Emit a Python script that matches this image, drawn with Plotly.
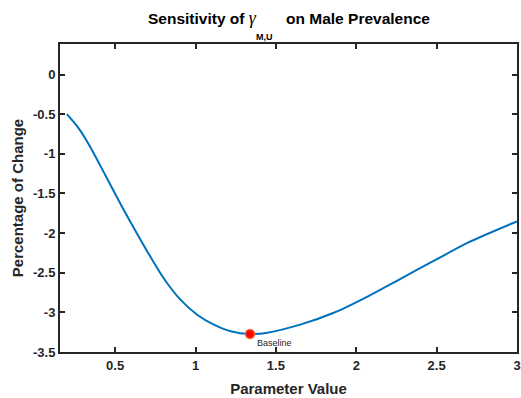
import plotly.graph_objects as go

# Data
param = [0.2, 0.27, 0.333, 0.4375, 0.542, 0.615, 0.698, 0.802, 0.906, 1.01, 1.114, 1.219,
         1.339, 1.448, 1.656, 1.864, 2.073, 2.281, 2.49, 2.698, 3.0]
change = [-0.5, -0.67, -0.87, -1.264, -1.664, -1.93, -2.225, -2.57, -2.84, -3.03, -3.155,
          -3.238, -3.273, -3.256, -3.152, -3.002, -2.797, -2.57, -2.342, -2.118, -1.853]
baseline_x = [1.339]
baseline_y = [-3.273]
xticks = [0.5, 1, 1.5, 2, 2.5, 3]
yticks = [0, -0.5, -1, -1.5, -2, -2.5, -3, -3.5]

FONT = "Liberation Sans, Arial, sans-serif"
DARK = "#262626"

fig = go.Figure()
fig.add_trace(go.Scatter(x=param, y=change, mode="lines",
                         line=dict(color="#0072BD", width=2, shape="spline", smoothing=0.8),
                         showlegend=False, hoverinfo="skip"))
fig.add_trace(go.Scatter(x=baseline_x, y=baseline_y, mode="markers",
                         marker=dict(color="#FF0000", size=9,
                                     line=dict(color="#F26B2C", width=1.5)),
                         showlegend=False))
fig.add_annotation(x=baseline_x[0], y=baseline_y[0], text="Baseline", showarrow=False,
                   xanchor="left", yanchor="top", xshift=5, yshift=-2,
                   font=dict(family=FONT, size=9, color=DARK))

# Title built from pieces
fig.add_annotation(xref="paper", yref="paper", x=0.5, y=1, yshift=14, showarrow=False,
                   xanchor="center", yanchor="bottom",
                   text="<b>Sensitivity of </b><span style=\"font-family:'Liberation Serif', serif;font-size:18px\"><i>γ</i></span>"
                        + "&nbsp;" * 7 + "<b>on Male Prevalence</b>",
                   font=dict(family=FONT, size=15.5, color="#000000"))
fig.add_annotation(xref="paper", yref="paper", x=0.4475, y=1, yshift=0, showarrow=False,
                   xanchor="center", yanchor="bottom", text="<b>M,U</b>",
                   font=dict(family=FONT, size=9, color="#000000"))

fig.update_layout(
    width=521, height=398,
    margin=dict(l=60, r=4, t=44, b=46, autoexpand=False),
    plot_bgcolor="white", paper_bgcolor="white",
    font=dict(family=FONT, color=DARK),
    xaxis=dict(range=[0.157, 3.0], tickvals=xticks, ticktext=[str(v) for v in xticks],
               showgrid=False, zeroline=False, showline=True, mirror="ticks",
               linecolor=DARK, linewidth=2, ticks="inside", ticklen=5, tickwidth=2,
               tickcolor=DARK,
               tickfont=dict(family=FONT, size=13, color=DARK, weight="bold"),
               title=dict(text="<b>Parameter Value</b>", standoff=12,
                          font=dict(family=FONT, size=15, color=DARK))),
    yaxis=dict(range=[-3.5, 0.385], tickvals=yticks, ticktext=[str(v) for v in yticks],
               showgrid=False, zeroline=False, showline=True, mirror="ticks",
               linecolor=DARK, linewidth=2, ticks="inside", ticklen=5, tickwidth=2,
               tickcolor=DARK,
               tickfont=dict(family=FONT, size=13, color=DARK, weight="bold"),
               title=dict(text="<b>Percentage of Change</b>", standoff=6,
                          font=dict(family=FONT, size=15, color=DARK))),
)

fig.write_html("out.html")
